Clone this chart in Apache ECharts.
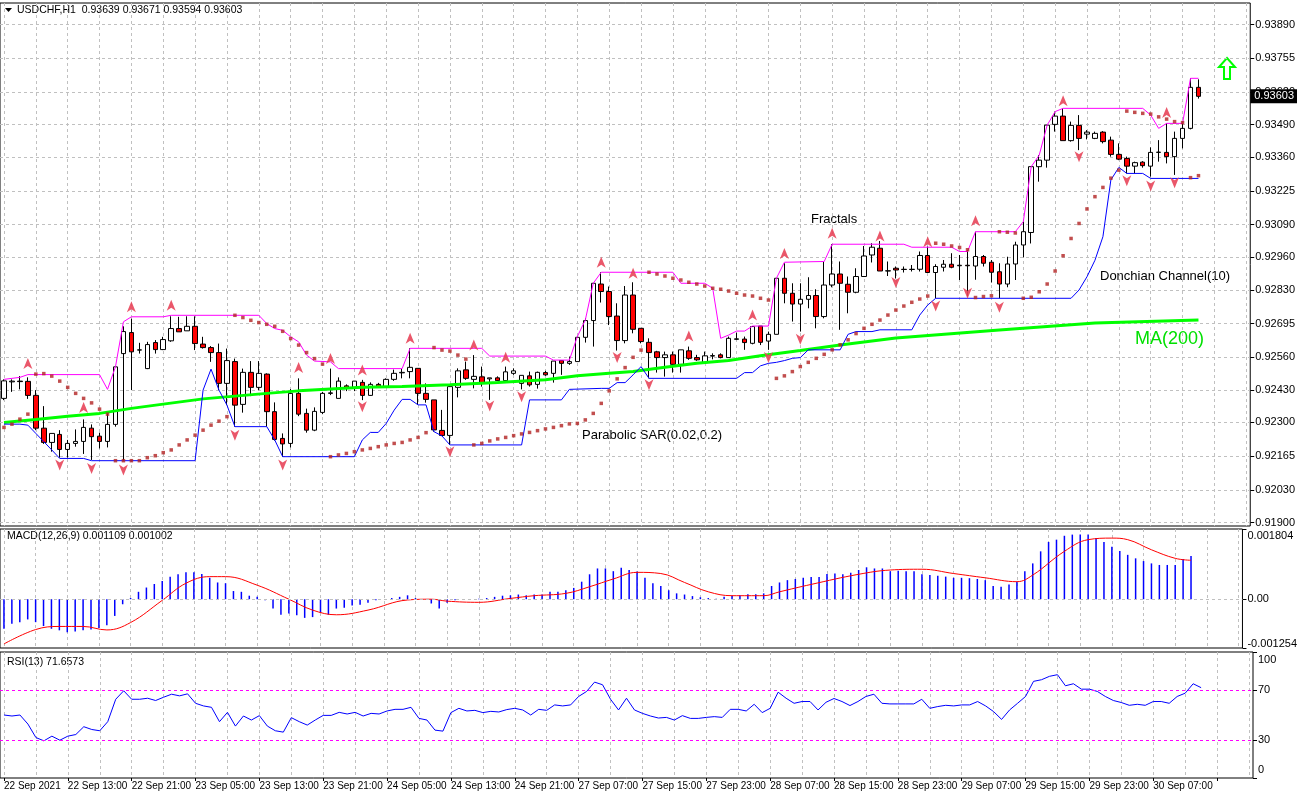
<!DOCTYPE html>
<html><head><meta charset="utf-8">
<script src="https://cdn.jsdelivr.net/npm/echarts@6/dist/echarts.min.js"></script>
<style>html,body{margin:0;padding:0;background:#fff}#c{width:1300px;height:798px}</style>
</head><body><div id="c"></div><script>
// ---------- DATA ----------
const tickLabels = ['22 Sep 2021','22 Sep 13:00','22 Sep 21:00','23 Sep 05:00','23 Sep 13:00','23 Sep 21:00','24 Sep 05:00','24 Sep 13:00','24 Sep 21:00','27 Sep 07:00','27 Sep 15:00','27 Sep 23:00','28 Sep 07:00','28 Sep 15:00','28 Sep 23:00','29 Sep 07:00','29 Sep 15:00','29 Sep 23:00','30 Sep 07:00'];
const priceTicks = [0.93890,0.93755,0.93620,0.93490,0.93360,0.93225,0.93090,0.92960,0.92830,0.92695,0.92560,0.92430,0.92300,0.92165,0.92030,0.91900];
const macdTicks = [-0.001254, 0, 0.001804];
const rsiTicks = [0, 30, 70, 100];

const opens = [0.92396,0.92462,0.92465,0.92464,0.92408,0.92277,0.92220,0.92252,0.92192,0.92216,
0.92224,0.92277,0.92245,0.92224,0.92292,0.92575,0.92659,0.92589,0.92515,0.92619,
0.92591,0.92626,0.92675,0.92666,0.92684,0.92613,0.92599,0.92579,0.92456,0.92543,
0.92372,0.92500,0.92440,0.92493,0.92343,0.92236,0.92216,0.92416,0.92336,0.92269,
0.92340,0.92416,0.92396,0.92446,0.92440,0.92460,0.92408,0.92452,0.92442,0.92472,
0.92498,0.92503,0.92516,0.92416,0.92390,0.92268,0.92248,0.92440,0.92510,0.92472,
0.92482,0.92474,0.92478,0.92467,0.92496,0.92456,0.92486,0.92452,0.92499,0.92496,
0.92547,0.92536,0.92543,0.92640,0.92707,0.92853,0.92823,0.92725,0.92627,0.92809,
0.92676,0.92620,0.92582,0.92559,0.92570,0.92532,0.92586,0.92559,0.92539,0.92565,
0.92570,0.92559,0.92632,0.92633,0.92616,0.92685,0.92625,0.92652,0.92876,0.92816,
0.92773,0.92792,0.92807,0.92723,0.92849,0.92893,0.92852,0.92820,0.92883,0.92969,
0.92996,0.92905,0.92916,0.92912,0.92911,0.92912,0.92967,0.92899,0.92920,0.92932,
0.92926,0.92928,0.92925,0.92963,0.92940,0.92902,0.92853,0.92933,0.93009,0.93059,
0.93322,0.93348,0.93491,0.93524,0.93426,0.93487,0.93452,0.93435,0.93460,0.93428,
0.93371,0.93355,0.93324,0.93340,0.93324,0.93379,0.93379,0.93362,0.93435,0.93475,
0.93639];
const closes = [0.92466,0.92465,0.92463,0.92408,0.92277,0.92220,0.92256,0.92192,0.92216,0.92224,
0.92280,0.92243,0.92224,0.92292,0.92522,0.92663,0.92582,0.92590,0.92611,0.92591,
0.92631,0.92675,0.92662,0.92684,0.92615,0.92599,0.92579,0.92456,0.92547,0.92369,
0.92500,0.92440,0.92496,0.92343,0.92232,0.92214,0.92416,0.92333,0.92269,0.92344,
0.92416,0.92418,0.92465,0.92438,0.92465,0.92408,0.92452,0.92442,0.92472,0.92496,
0.92500,0.92520,0.92416,0.92392,0.92270,0.92248,0.92443,0.92506,0.92476,0.92484,
0.92456,0.92478,0.92467,0.92502,0.92506,0.92488,0.92450,0.92500,0.92490,0.92545,
0.92536,0.92543,0.92640,0.92707,0.92856,0.92823,0.92723,0.92627,0.92809,0.92672,
0.92623,0.92579,0.92559,0.92570,0.92532,0.92590,0.92556,0.92550,0.92566,0.92567,
0.92559,0.92636,0.92634,0.92619,0.92683,0.92620,0.92652,0.92876,0.92816,0.92773,
0.92792,0.92807,0.92723,0.92849,0.92893,0.92856,0.92820,0.92883,0.92965,0.93000,
0.92905,0.92906,0.92909,0.92911,0.92912,0.92967,0.92899,0.92923,0.92932,0.92920,
0.92928,0.92926,0.92963,0.92936,0.92900,0.92853,0.92933,0.93009,0.93062,0.93322,
0.93348,0.93488,0.93524,0.93426,0.93487,0.93435,0.93460,0.93455,0.93422,0.93371,
0.93352,0.93324,0.93338,0.93326,0.93379,0.93380,0.93362,0.93435,0.93475,0.93639,
0.93603];
const lows = [0.92389,0.92422,0.92432,0.92394,0.92269,0.92214,0.92183,0.92159,0.92159,0.92203,
0.92174,0.92150,0.92196,0.92200,0.92283,0.92147,0.92429,0.92575,0.92513,0.92575,
0.92589,0.92622,0.92662,0.92666,0.92589,0.92595,0.92542,0.92429,0.92369,0.92283,
0.92339,0.92405,0.92429,0.92283,0.92227,0.92163,0.92200,0.92325,0.92259,0.92265,
0.92333,0.92409,0.92396,0.92425,0.92425,0.92389,0.92406,0.92438,0.92440,0.92466,
0.92476,0.92476,0.92370,0.92379,0.92263,0.92246,0.92210,0.92400,0.92470,0.92436,
0.92443,0.92390,0.92466,0.92463,0.92490,0.92432,0.92443,0.92435,0.92486,0.92459,
0.92490,0.92530,0.92543,0.92619,0.92603,0.92779,0.92689,0.92587,0.92616,0.92656,
0.92616,0.92476,0.92499,0.92483,0.92499,0.92499,0.92550,0.92546,0.92536,0.92552,
0.92556,0.92559,0.92629,0.92590,0.92612,0.92609,0.92590,0.92652,0.92776,0.92703,
0.92663,0.92756,0.92676,0.92716,0.92840,0.92670,0.92736,0.92816,0.92883,0.92939,
0.92905,0.92885,0.92875,0.92899,0.92903,0.92903,0.92899,0.92796,0.92903,0.92916,
0.92869,0.92803,0.92870,0.92923,0.92859,0.92796,0.92840,0.92869,0.92960,0.93015,
0.93262,0.93318,0.93462,0.93426,0.93422,0.93388,0.93431,0.93432,0.93415,0.93362,
0.93348,0.93295,0.93295,0.93318,0.93282,0.93342,0.93335,0.93289,0.93395,0.93471,
0.93594];
const highs = [0.92472,0.92472,0.92485,0.92480,0.92429,0.92365,0.92256,0.92269,0.92230,0.92272,
0.92312,0.92292,0.92259,0.92336,0.92525,0.92684,0.92715,0.92618,0.92622,0.92629,
0.92642,0.92724,0.92722,0.92724,0.92724,0.92642,0.92605,0.92615,0.92595,0.92555,
0.92515,0.92545,0.92545,0.92496,0.92380,0.92256,0.92433,0.92476,0.92355,0.92360,
0.92422,0.92515,0.92480,0.92452,0.92465,0.92470,0.92460,0.92458,0.92476,0.92511,
0.92515,0.92596,0.92516,0.92456,0.92390,0.92350,0.92450,0.92516,0.92543,0.92569,
0.92523,0.92478,0.92484,0.92523,0.92516,0.92488,0.92503,0.92503,0.92506,0.92545,
0.92547,0.92563,0.92643,0.92716,0.92856,0.92900,0.92843,0.92776,0.92845,0.92860,
0.92676,0.92636,0.92586,0.92583,0.92583,0.92590,0.92603,0.92570,0.92583,0.92576,
0.92576,0.92643,0.92659,0.92643,0.92685,0.92685,0.92663,0.92876,0.92936,0.92856,
0.92856,0.92880,0.92832,0.92943,0.93012,0.92943,0.92883,0.92916,0.93005,0.93016,
0.93025,0.92943,0.92923,0.92923,0.92929,0.92983,0.93003,0.92932,0.92949,0.92976,
0.92969,0.92989,0.93062,0.92969,0.92949,0.92936,0.92962,0.93022,0.93102,0.93322,
0.93368,0.93488,0.93542,0.93555,0.93502,0.93528,0.93468,0.93462,0.93464,0.93442,
0.93415,0.93362,0.93342,0.93344,0.93399,0.93428,0.93495,0.93462,0.93502,0.93675,
0.93671];

// MA(200) vertices [bar, value]
const ma200 = [[0,0.92300],[4,0.92312],[8,0.92325],[12,0.92336],[16,0.92356],[20,0.92373],[25,0.92394],[29,0.92405],[33,0.92416],[37,0.92426],[41,0.92433],[45,0.92440],[50,0.92443],[56,0.92450],[62,0.92459],[68,0.92470],[72,0.92486],[76,0.92496],[79,0.92503],[83,0.92520],[87,0.92536],[91,0.92547],[95,0.92566],[100,0.92587],[105,0.92609],[112,0.92637],[125,0.92669],[137,0.92697],[150,0.92709]];
// Donchian Channel(10) vertices [bar, value]
const donchUpper = [[0,0.92472],[2,0.92480],[3,0.92491],[12,0.92491],[13,0.92432],[14,0.92522],[15,0.92702],[16,0.92722],[20,0.92722],[21,0.92728],[32,0.92728],[33,0.92695],[34,0.92675],[35,0.92668],[36,0.92642],[37,0.92622],[38,0.92569],[39,0.92545],[41,0.92542],[42,0.92515],[50,0.92515],[51,0.92596],[60,0.92596],[61,0.92565],[68,0.92565],[69,0.92549],[71,0.92549],[72,0.92643],[73,0.92709],[74,0.92856],[75,0.92900],[84,0.92900],[85,0.92856],[88,0.92856],[89,0.92836],[90,0.92636],[91,0.92649],[92,0.92665],[93,0.92665],[94,0.92685],[96,0.92685],[97,0.92876],[98,0.92940],[103,0.92943],[104,0.93012],[113,0.93012],[114,0.93000],[119,0.93000],[120,0.92983],[121,0.92983],[122,0.93062],[127,0.93062],[128,0.93102],[129,0.93322],[130,0.93368],[131,0.93488],[132,0.93542],[133,0.93555],[143,0.93555],[144,0.93528],[145,0.93475],[146,0.93495],[148,0.93495],[149,0.93675],[150,0.93675]];
const donchLower = [[0,0.92293],[2,0.92293],[3,0.92289],[4,0.92256],[5,0.92223],[6,0.92190],[7,0.92156],[10,0.92156],[11,0.92147],[24,0.92147],[25,0.92429],[26,0.92513],[27,0.92429],[28,0.92369],[29,0.92283],[33,0.92283],[34,0.92230],[35,0.92163],[44,0.92163],[45,0.92230],[46,0.92260],[47,0.92260],[48,0.92296],[49,0.92349],[50,0.92392],[51,0.92392],[52,0.92370],[53,0.92370],[54,0.92263],[55,0.92246],[56,0.92210],[65,0.92210],[66,0.92390],[70,0.92390],[71,0.92432],[75,0.92436],[76,0.92436],[77,0.92459],[78,0.92459],[79,0.92490],[80,0.92523],[81,0.92476],[92,0.92476],[93,0.92499],[94,0.92499],[95,0.92526],[96,0.92536],[97,0.92540],[98,0.92547],[99,0.92556],[100,0.92559],[101,0.92590],[105,0.92590],[106,0.92652],[107,0.92663],[109,0.92663],[110,0.92670],[114,0.92670],[115,0.92729],[116,0.92769],[117,0.92796],[134,0.92796],[135,0.92829],[136,0.92882],[137,0.92948],[138,0.93042],[139,0.93269],[140,0.93319],[141,0.93295],[143,0.93295],[144,0.93275],[150,0.93275]];
// Parabolic SAR(0.02,0.2), one dot per bar
const psar = [0.92280,0.92293,0.92313,0.92333,0.92493,0.92495,0.92485,0.92465,0.92440,0.92416,
0.92396,0.92378,0.92353,0.92333,0.92147,0.92147,0.92147,0.92147,0.92159,0.92167,
0.92179,0.92190,0.92210,0.92230,0.92249,0.92269,0.92289,0.92305,0.92323,0.92728,
0.92719,0.92708,0.92699,0.92692,0.92684,0.92664,0.92635,0.92609,0.92579,0.92555,
0.92533,0.92163,0.92170,0.92176,0.92183,0.92190,0.92196,0.92203,0.92210,0.92216,
0.92220,0.92230,0.92240,0.92259,0.92599,0.92589,0.92585,0.92569,0.92553,0.92210,
0.92216,0.92226,0.92234,0.92240,0.92247,0.92254,0.92260,0.92267,0.92274,0.92280,
0.92287,0.92294,0.92296,0.92310,0.92336,0.92376,0.92426,0.92474,0.92519,0.92560,
0.92589,0.92900,0.92893,0.92885,0.92876,0.92869,0.92860,0.92853,0.92845,0.92836,
0.92832,0.92825,0.92816,0.92809,0.92805,0.92796,0.92789,0.92476,0.92486,0.92503,
0.92523,0.92540,0.92556,0.92572,0.92590,0.92610,0.92630,0.92655,0.92676,0.92692,
0.92709,0.92729,0.92749,0.92765,0.92780,0.92793,0.92805,0.93016,0.93012,0.93005,
0.92999,0.92990,0.92799,0.92803,0.92806,0.93062,0.93060,0.93057,0.92796,0.92800,
0.92822,0.92853,0.92905,0.92966,0.93035,0.93095,0.93153,0.93202,0.93239,0.93276,
0.93308,0.93544,0.93539,0.93535,0.93532,0.93521,0.93512,0.93502,0.93498,0.93278,
0.93286];
// Fractals [bar, arrow level]
const fractalUp = [[3,0.92535],[10,0.92360],[16,0.92762],[21,0.92768],[37,0.92519],[41,0.92555],[45,0.92509],[51,0.92636],[59,0.92609],[63,0.92560],[75,0.92940],[79,0.92896],[86,0.92645],[94,0.92729],[98,0.92975],[104,0.93056],[110,0.93045],[116,0.93022],[122,0.93106],[133,0.93585],[146,0.93538]];
const fractalDown = [[7,0.92130],[11,0.92116],[15,0.92110],[29,0.92249],[35,0.92130],[45,0.92363],[56,0.92183],[61,0.92366],[65,0.92403],[77,0.92559],[81,0.92450],[96,0.92559],[100,0.92632],[112,0.92859],[117,0.92765],[121,0.92816],[125,0.92760],[135,0.93362],[141,0.93266],[144,0.93245],[147,0.93258]];
// MACD(12,26,9)
const macdHist = [-0.00076,-0.00063,-0.00059,-0.00052,-0.00059,-0.00069,-0.00076,-0.00080,-0.00085,-0.00083,
-0.00080,-0.00078,-0.00074,-0.00067,-0.00043,-0.00013,0.00003,0.00019,0.00030,0.00039,
0.00047,0.00058,0.00064,0.00069,0.00069,0.00065,0.00055,0.00043,0.00041,0.00021,
0.00019,0.00009,0.00006,-0.00003,-0.00024,-0.00040,-0.00037,-0.00041,-0.00048,-0.00046,
-0.00035,-0.00040,-0.00024,-0.00022,-0.00016,-0.00014,-0.00009,-0.00003,0.00000,0.00003,
0.00006,0.00010,0.00003,0.00000,-0.00011,-0.00024,-0.00009,-0.00003,-0.00002,0.00000,
0.00001,0.00003,0.00006,0.00009,0.00010,0.00012,0.00010,0.00012,0.00012,0.00019,
0.00019,0.00023,0.00029,0.00045,0.00064,0.00079,0.00079,0.00072,0.00081,0.00075,
0.00071,0.00055,0.00041,0.00034,0.00023,0.00015,0.00012,0.00008,0.00005,0.00003,
0.00001,0.00006,0.00009,0.00010,0.00013,0.00013,0.00015,0.00034,0.00043,0.00049,
0.00052,0.00055,0.00057,0.00057,0.00065,0.00066,0.00064,0.00068,0.00075,0.00082,
0.00079,0.00079,0.00072,0.00073,0.00072,0.00072,0.00064,0.00062,0.00060,0.00058,
0.00055,0.00055,0.00054,0.00052,0.00049,0.00034,0.00032,0.00038,0.00045,0.00072,
0.00092,0.00123,0.00147,0.00153,0.00163,0.00166,0.00166,0.00166,0.00157,0.00147,
0.00135,0.00124,0.00114,0.00105,0.00098,0.00092,0.00088,0.00088,0.00088,0.00103,
0.00111];
const macdSignal = [[0,-0.00115],[4,-0.00078],[7,-0.00070],[10,-0.00070],[13,-0.00079],[16,-0.00060],[20,-0.00003],[23,0.00041],[26,0.00058],[28,0.00058],[32,0.00036],[36,0.00000],[39,-0.00028],[42,-0.00040],[46,-0.00028],[51,-0.00002],[54,0.00000],[56,-0.00005],[60,-0.00008],[64,0.00002],[67,0.00009],[71,0.00015],[74,0.00032],[77,0.00052],[80,0.00069],[83,0.00066],[86,0.00043],[89,0.00019],[92,0.00009],[96,0.00009],[98,0.00019],[102,0.00038],[108,0.00064],[112,0.00075],[116,0.00077],[120,0.00066],[124,0.00055],[128,0.00045],[130,0.00062],[134,0.00123],[137,0.00153],[140,0.00157],[142,0.00153],[145,0.00127],[148,0.00105],[150,0.00100]];
// RSI(13)
const rsi = [50,49.2,50,42.8,32.1,29.5,33.2,30,33.2,34.5,
40.7,38.5,37.5,44.7,62.5,69.2,62.5,62.5,63.3,61.5,
64.1,66.5,65.2,66.8,59.3,57.2,56.1,44.7,52.1,41.2,
49.2,46,49.5,41.2,37.5,36.4,47.9,44.7,42,46,
49.7,49.7,52.1,50.8,52.1,49.2,51.3,50.8,53.2,54.5,
54.5,56.1,47.3,46,38,37.2,51.9,55.3,53.2,53.7,
51.9,52.9,52.4,54.3,55.3,54,50,54.5,53.7,58,
57.2,58,64.7,68.7,76.1,74,62.5,54,63.3,54,
51.3,49.2,47.6,48.1,46,49.5,47.3,47.3,48.1,48.7,
48.1,54.5,54.5,53.2,58.5,51.9,55.3,68.1,63.3,59.3,
60.7,60.7,54,60.1,63.1,60.7,57.5,60.7,64.7,66.5,
59.3,58.8,58.8,58.8,58.8,62.5,55.3,56.7,57.7,57.2,
58,58,60.7,57.2,52.7,46.5,54,59.3,64.7,76.7,
78,80.7,82,73.2,74.8,70.5,70.5,68.7,64.7,61.5,
59.9,57.7,58.5,57.7,60.7,60.7,59.3,64.7,67.3,74.8,
71.7];
const macdHeader = [0.001109, 0.001002];
const rsiHeader = 71.6573;

// ---------- CHART ----------
const FONT = '"Liberation Sans", Arial, sans-serif';
const NCAT = 157;
const cats = Array.from({length: NCAT}, (_, i) => String(i));
const every4 = i => i % 4 === 0;
const every8 = i => i % 8 === 0;
const last = closes.length - 1;
const ohlc = opens.map((o, i) => [o, closes[i], lows[i], highs[i]]);
const PMIN = 0.91886, PMAX = 0.93976;

function xAxisFor(gi, showLabels) {
  return {
    type: 'category', gridIndex: gi, data: cats, boundaryGap: true,
    axisLine: {show: false},
    axisTick: showLabels ? {show: true, interval: every8, alignWithLabel: true, length: 3, lineStyle: {color: '#000'}} : {show: false},
    axisLabel: showLabels ? {show: true, interval: every8, align: 'left', margin: 3, fontSize: 10,
      fontFamily: FONT, color: '#000', formatter: (v) => tickLabels[Number(v) / 8] || ''} : {show: false},
    splitLine: {show: true, interval: every4, alignWithLabel: true, lineStyle: {color: '#c0c0c0', type: [3, 3], width: 1}}
  };
}
const gridStyle = {show: true, borderColor: '#000', borderWidth: 1, backgroundColor: '#fff', left: 0, right: 47};
const arrowPath = 'path://M5,0 L10,11 L5,8 L0,11 Z';

const chart = echarts.init(document.getElementById('c'), null, {renderer: 'canvas'});
chart.setOption({
  animation: false,
  backgroundColor: '#fff',
  textStyle: {fontFamily: FONT},
  grid: [
    Object.assign({top: 3, height: 523}, gridStyle),
    Object.assign({top: 529, height: 119}, gridStyle),
    Object.assign({top: 652, height: 126}, gridStyle)
  ],
  xAxis: [xAxisFor(0, false), xAxisFor(1, false), xAxisFor(2, true)],
  yAxis: [
    {type: 'value', gridIndex: 0, position: 'right', min: PMIN, max: PMAX,
      axisLine: {show: false},
      axisTick: {show: true, customValues: priceTicks, length: 4, lineStyle: {color: '#000'}},
      axisLabel: {customValues: priceTicks, formatter: v => v.toFixed(5), fontSize: 11, fontFamily: FONT, color: '#000', margin: 5},
      splitLine: {show: true, lineStyle: {color: '#c0c0c0', type: [3, 3]}}},
    {type: 'value', gridIndex: 1, position: 'right', min: -0.001254, max: 0.001804,
      axisLine: {show: false},
      axisTick: {show: true, customValues: macdTicks, length: 4, lineStyle: {color: '#000'}},
      axisLabel: {customValues: macdTicks, fontSize: 11, fontFamily: FONT, color: '#000', margin: 5,
        formatter: v => v === 0 ? '0.00' : (v > 0 ? '{t|' + v.toFixed(6) + '}' : '{b|' + v.toFixed(6) + '}'),
        rich: {t: {padding: [14, 0, 0, 0], fontSize: 11, fontFamily: FONT, color: '#000'}, b: {padding: [0, 0, 8, 0], fontSize: 11, fontFamily: FONT, color: '#000'}}},
      splitLine: {show: false}},
    {type: 'value', gridIndex: 2, position: 'right', min: 0, max: 100,
      axisLine: {show: false},
      axisTick: {show: true, customValues: rsiTicks, length: 4, lineStyle: {color: '#000'}},
      axisLabel: {customValues: rsiTicks, fontSize: 11, fontFamily: FONT, color: '#000', margin: 5,
        formatter: v => v === 100 ? '{t|100}' : (v === 0 ? '{b|0}' : String(v)),
        rich: {t: {padding: [16, 0, 0, 0], fontSize: 11, fontFamily: FONT, color: '#000'}, b: {padding: [0, 0, 16, 0], fontSize: 11, fontFamily: FONT, color: '#000'}}},
      splitLine: {show: false}},
    // current-price tag on the price scale
    {type: 'value', gridIndex: 0, position: 'right', min: PMIN, max: PMAX, z: 10,
      axisLine: {show: false}, axisTick: {show: false}, splitLine: {show: false},
      axisLabel: {customValues: [closes[last]], formatter: v => v.toFixed(5), fontSize: 11, fontFamily: FONT,
        color: '#fff', backgroundColor: '#000', padding: [2, 3, 1, 4], margin: 0}}
  ],
  graphic: [
    {type: 'polygon', shape: {points: [[5, 8], [12, 8], [8.5, 12]]}, style: {fill: '#000'}},
    {type: 'text', x: 17, y: 5, style: {text: 'USDCHF,H1  ' + [opens[last], highs[last], lows[last], closes[last]].map(v => v.toFixed(5)).join(' '), font: '10.5px ' + FONT, fill: '#000'}},
    {type: 'text', x: 811, y: 213, style: {text: 'Fractals', font: '13px ' + FONT, fill: '#000'}},
    {type: 'text', x: 1100, y: 270, style: {text: 'Donchian Channel(10)', font: '13px ' + FONT, fill: '#000'}},
    {type: 'text', x: 582, y: 429, style: {text: 'Parabolic SAR(0.02,0.2)', font: '13px ' + FONT, fill: '#000'}},
    {type: 'text', x: 1135, y: 330, style: {text: 'MA(200)', font: '18px ' + FONT, fill: '#00e000'}},
    {type: 'polygon', x: 1219, y: 58, shape: {points: [[8, 0], [16, 9], [11, 9], [11, 21], [5, 21], [5, 9], [0, 9]]}, style: {fill: 'none', stroke: '#00ff00', lineWidth: 2}},
    {type: 'text', x: 7, y: 531, style: {text: 'MACD(12,26,9) ' + macdHeader[0].toFixed(6) + ' ' + macdHeader[1].toFixed(6), font: '10.5px ' + FONT, fill: '#000'}},
    {type: 'text', x: 7, y: 657, style: {text: 'RSI(13) ' + rsiHeader.toFixed(4), font: '10.5px ' + FONT, fill: '#000'}}
  ],
  series: [
    {type: 'candlestick', xAxisIndex: 0, yAxisIndex: 0, data: ohlc, barWidth: 5,
      itemStyle: {color: '#ffffff', color0: '#ff0000', borderColor: '#000000', borderColor0: '#000000', borderWidth: 1},
      markLine: {silent: true, symbol: 'none', animation: false,
        lineStyle: {color: '#c0c0c0', type: 'solid', width: 1},
        label: {show: false},
        data: [{yAxis: closes[last]}]}},
    {type: 'line', xAxisIndex: 0, yAxisIndex: 0, data: ma200, showSymbol: false, symbol: 'none', z: 3,
      lineStyle: {color: '#00ff00', width: 3}},
    {type: 'line', xAxisIndex: 0, yAxisIndex: 0, data: donchUpper, showSymbol: false, symbol: 'none', z: 3,
      lineStyle: {color: '#ff00ff', width: 1}},
    {type: 'line', xAxisIndex: 0, yAxisIndex: 0, data: donchLower, showSymbol: false, symbol: 'none', z: 3,
      lineStyle: {color: '#0000ff', width: 1}},
    {type: 'scatter', xAxisIndex: 0, yAxisIndex: 0, data: psar, symbol: 'rect', symbolSize: 3.5, z: 4,
      itemStyle: {color: '#b22222'}},
    {type: 'scatter', xAxisIndex: 0, yAxisIndex: 0, data: fractalUp, symbol: arrowPath, symbolSize: [9, 11], z: 4,
      itemStyle: {color: '#e8455a', opacity: 0.9}},
    {type: 'scatter', xAxisIndex: 0, yAxisIndex: 0, data: fractalDown, symbol: arrowPath, symbolSize: [9, 11], symbolRotate: 180, z: 4,
      itemStyle: {color: '#e8455a', opacity: 0.9}},
    {type: 'bar', xAxisIndex: 1, yAxisIndex: 1, data: macdHist, barWidth: 1.5, itemStyle: {color: '#0000ff'},
      markLine: {silent: true, symbol: 'none', label: {show: false}, lineStyle: {color: '#c0c0c0', type: [3, 3], width: 1}, data: [{yAxis: 0}]}},
    {type: 'line', xAxisIndex: 1, yAxisIndex: 1, data: macdSignal, showSymbol: false, symbol: 'none', smooth: 0.4,
      lineStyle: {color: '#ff0000', width: 1}},
    {type: 'line', xAxisIndex: 2, yAxisIndex: 2, data: rsi, showSymbol: false, symbol: 'none',
      lineStyle: {color: '#0000ff', width: 1},
      markLine: {silent: true, symbol: 'none', label: {show: false}, lineStyle: {color: '#ff00ff', type: [3, 3], width: 1},
        data: [{yAxis: 70}, {yAxis: 30}]}}
  ]
});
</script></body></html>
